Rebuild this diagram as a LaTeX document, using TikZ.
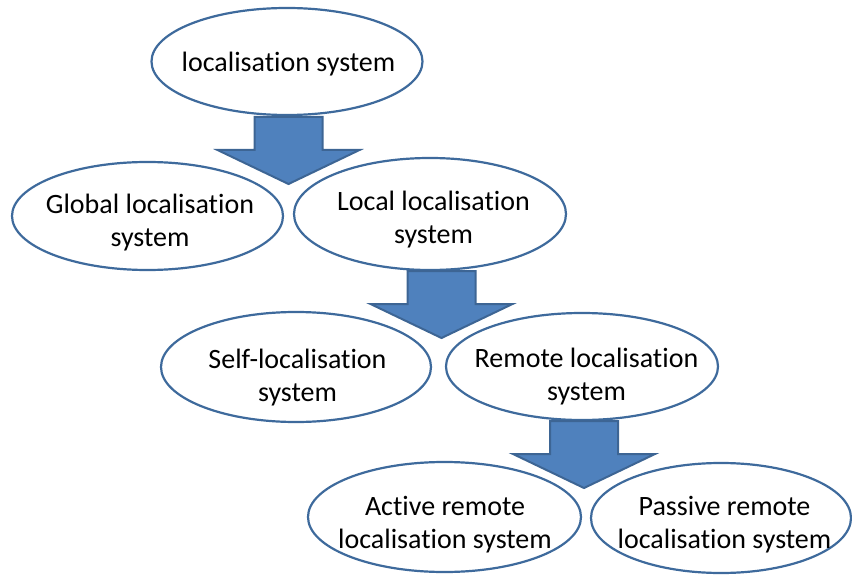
\documentclass[tikz,border=0pt]{standalone}
\usepackage{fontspec}
\setmainfont{Carlito}[Ligatures=NoCommon]
\usetikzlibrary{shapes.geometric}
\definecolor{ovalline}{HTML}{3E6A9C}
\definecolor{arrowfill}{HTML}{4F81BD}
\definecolor{arrowline}{HTML}{3D6594}
\tikzset{
  oval/.style={ellipse, draw=ovalline, line width=2.2pt, fill=white, inner sep=0pt},
  caption/.style={font=\fontsize{28}{33}\selectfont, align=center, inner sep=0pt, text=black},
  pics/blockarrow/.style={code={
    \draw[fill=arrowfill, draw=arrowline, line width=2pt, line join=miter]
      (-34,0) -- (34,0) -- (34,33) -- (71,33) -- (0,67) -- (-71,33) -- (-34,33) -- cycle;}}
}
\begin{document}
\begin{tikzpicture}[x=1pt,y=-1pt]
\useasboundingbox (0,0) rectangle (852,575);

% ovals
\node[oval, minimum width=271pt, minimum height=107pt] (root) at (287,61.5) {};
\node[oval, minimum width=271pt, minimum height=108pt] (global) at (147.5,216) {};
\node[oval, minimum width=272pt, minimum height=112pt] (local) at (430,214) {};
\node[oval, minimum width=270pt, minimum height=110pt] (self) at (296,367) {};
\node[oval, minimum width=272pt, minimum height=107pt] (remote) at (582,366.5) {};
\node[oval, minimum width=273pt, minimum height=110pt] (active) at (444.5,517) {};
\node[oval, minimum width=260pt, minimum height=110pt] (passive) at (721,518) {};

% labels
\node[caption, anchor=base] (root-text) at (288.5,72) {localisation system};
\node[caption] (global-text) at (150,222.75) {Global localisation\\system};
\node[caption] (local-text) at (433.5,219.75) {Local localisation\\system};
\node[caption] (self-text) at (297.5,377.75) {Self-localisation\\system};
\node[caption] (remote-text) at (586.5,376.75) {Remote localisation\\system};
\node[caption] (active-text) at (445,524.5) {Active remote\\localisation system};
\node[caption] (passive-text) at (724.5,524.5) {Passive remote\\localisation system};

% block arrows
\pic (arrow-root) at (288.5,117) {blockarrow};
\pic (arrow-local) at (441.5,271) {blockarrow};
\pic (arrow-remote) at (584,421) {blockarrow};
\end{tikzpicture}
\end{document}
